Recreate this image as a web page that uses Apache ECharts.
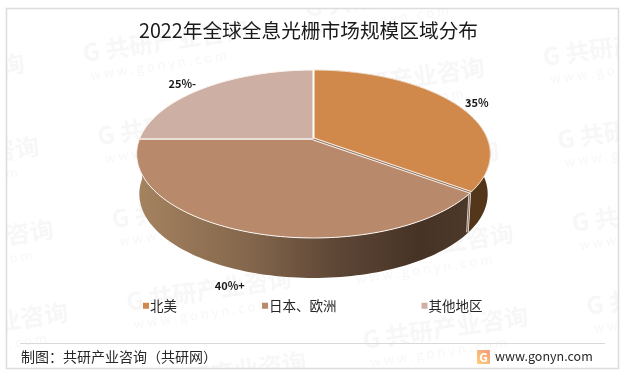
<!DOCTYPE html>
<html>
<head>
<meta charset="utf-8">
<script src="https://cdn.jsdelivr.net/npm/echarts@6/dist/echarts.min.js"></script>
<style>html,body{margin:0;padding:0;background:#fff}#c{width:625px;height:375px}</style>
</head>
<body>
<div id="c"></div>
<script>
var categories = ['北美', '日本、欧洲', '其他地区'];
var shares = [35, 40, 25];
var labelTexts = ['35%', '40%+', '25%-'];
var topColors = ['#D0894B', '#B8896B', '#CDB0A3'];
var titleText = '2022年全球全息光栅市场规模区域分布';
var sourceText = '制图：共研产业咨询（共研网）';
var siteText = 'www.gonyn.com';

var CX = 313.5, CY = 139, A = 174, B = 81.3, K = 0.1786, DEPTH = 40, BOTTOM_X = 0.985;
var FONT = '"Noto Sans CJK SC","Noto Sans",sans-serif';
var labelOffset = [[20, -2], [-20, 14], [-22, -4]];
var total = shares.reduce(function (a, b) { return a + b; }, 0);

function proj(deg, bottom) {
  var t = deg * Math.PI / 180, u = Math.sin(t), v = Math.cos(t), w = 1 + K * v;
  var sx = bottom ? BOTTOM_X : 1;
  return [CX + A * sx * u / w, CY - B * v / w + (bottom ? DEPTH : 0)];
}
function arc(a0, a1, bottom) {
  var pts = [], n = Math.max(2, Math.ceil(Math.abs(a1 - a0) / 1.5));
  for (var i = 0; i <= n; i++) pts.push(proj(a0 + (a1 - a0) * i / n, bottom));
  return pts;
}
function wallFill(i) {
  if (i === 0) return new echarts.graphic.LinearGradient(0, 0, 1, 0, [
    { offset: 0, color: '#573819' }, { offset: 1, color: '#53361A' }]);
  return new echarts.graphic.LinearGradient(0, 0, 1, 0, [
    { offset: 0, color: '#a58360' }, { offset: 0.35, color: '#82654b' },
    { offset: 0.6, color: '#5d4636' }, { offset: 0.85, color: '#463325' }, { offset: 1, color: '#4d392a' }]);
}
function renderSlice(params, api) {
  var i = params.seriesIndex, before = 0;
  for (var j = 0; j < i; j++) before += shares[j];
  var value = api.value(0);
  var a0 = before / total * 360, a1 = (before + value) / total * 360;
  var kids = [];
  if (a0 < 270) {
    kids.push({
      type: 'polygon', z2: 1,
      shape: { points: arc(a0, a1, false).concat(arc(a1, a0, true)) },
      style: { fill: wallFill(i), stroke: null }
    });
  }
  kids.push({
    type: 'polygon', z2: 5,
    shape: { points: [[CX, CY]].concat(arc(a0, a1, false)) },
    style: { fill: topColors[i], stroke: i === 0 ? '#F3E2D2' : '#FBF6F2', lineWidth: 1 }
  });
  var pA = proj(a0, false);
  if (i === 0) {
    kids.push({ type: 'line', z2: 9, shape: { x1: CX, y1: CY, x2: pA[0], y2: pA[1] }, style: { stroke: '#ffffff', lineWidth: 2 } });
  } else if (i === 1) {
    var qA = proj(a0, true);
    kids.push({ type: 'line', z2: 9, shape: { x1: CX, y1: CY, x2: pA[0], y2: pA[1] }, style: { stroke: '#F6EEE8', lineWidth: 3 } });
    kids.push({ type: 'line', z2: 10, shape: { x1: CX, y1: CY, x2: pA[0], y2: pA[1] }, style: { stroke: '#8F6E55', lineWidth: 1 } });
    kids.push({ type: 'line', z2: 3, shape: { x1: pA[0] - 1, y1: pA[1], x2: qA[0] - 1, y2: qA[1] }, style: { stroke: '#EDE6E0', lineWidth: 2.5 } });
    kids.push({ type: 'line', z2: 4, shape: { x1: pA[0] - 1, y1: pA[1], x2: qA[0] - 1, y2: qA[1] }, style: { stroke: '#6b5443', lineWidth: 0.8 } });
  } else {
    kids.push({ type: 'line', z2: 9, shape: { x1: CX, y1: CY, x2: pA[0], y2: pA[1] }, style: { stroke: '#E9DED8', lineWidth: 2 } });
  }
  var mid = proj((a0 + a1) / 2, a0 < 270 && a1 > 180 && a0 > 90);
  kids.push({
    type: 'text', z2: 12,
    style: {
      x: mid[0] + labelOffset[i][0], y: mid[1] + labelOffset[i][1], text: labelTexts[i],
      font: 'bold 11px ' + FONT, fill: '#1a1a1a', align: 'center', verticalAlign: 'middle'
    }
  });
  return { type: 'group', children: kids };
}

var watermark = [];
var columnOrigins = [[-155, 4], [83, 53], [305, 8], [543, 57]];
columnOrigins.forEach(function (o) {
  for (var r = -1; r <= 5; r++) {
    var gx = o[0] + 14.5 * r, gy = o[1] + 83 * r;
    if (gy < -20 || gy > 400) continue;
    watermark.push({
      type: 'group', x: gx, y: gy, rotation: 0.148, silent: true,
      children: [
        { type: 'text', style: { x: 0, y: 0, text: 'G 共研产业咨询', font: 'bold 24px ' + FONT, fill: '#F7F7F7', verticalAlign: 'middle' } },
        { type: 'text', style: { x: 4, y: 23, text: 'w w w . g o n y n . c o m', font: '13px ' + FONT, fill: '#F7F7F7', verticalAlign: 'middle' } }
      ]
    });
  }
});

var mask = [
  { type: 'rect', shape: { x: 0, y: 0, width: 7, height: 375 }, style: { fill: '#fff' }, silent: true },
  { type: 'rect', shape: { x: 618, y: 0, width: 7, height: 375 }, style: { fill: '#fff' }, silent: true },
  { type: 'rect', shape: { x: 0, y: 0, width: 625, height: 9 }, style: { fill: '#fff' }, silent: true },
  { type: 'rect', shape: { x: 0, y: 368, width: 625, height: 7 }, style: { fill: '#fff' }, silent: true }
];
var chrome = [
  { type: 'rect', shape: { x: 6.5, y: 8.5, width: 612, height: 360 }, style: { fill: 'none', stroke: '#DCDCDC', lineWidth: 1.5 }, silent: true },
  { type: 'line', shape: { x1: 20, y1: 343.5, x2: 605, y2: 343.5 }, style: { stroke: '#D9D9D9', lineWidth: 1 }, silent: true },
  { type: 'text', style: { x: 21, y: 357, text: sourceText, font: '14px ' + FONT, fill: '#262626', verticalAlign: 'middle' } },
  { type: 'rect', shape: { x: 477, y: 350, width: 13, height: 14, r: 1 },
    style: { fill: new echarts.graphic.LinearGradient(1, 0, 0, 1, [{ offset: 0, color: '#F59A7A' }, { offset: 1, color: '#FAD27A' }]) } },
  { type: 'text', style: { x: 483.5, y: 357, text: 'G', font: 'bold 12px ' + FONT, fill: '#ffffff', align: 'center', verticalAlign: 'middle' } },
  { type: 'text', style: { x: 495, y: 356.5, text: siteText, font: '12.5px ' + FONT, fill: '#262626', verticalAlign: 'middle' } }
];

var chart = echarts.init(document.getElementById('c'), null, { renderer: 'canvas' });
chart.setOption({
  animation: false,
  backgroundColor: '#ffffff',
  title: {
    text: titleText, left: 139, top: 21, padding: 0,
    textStyle: { fontFamily: FONT, fontSize: 19.7, fontWeight: 'normal', color: '#1a1a1a' }
  },
  legend: {
    left: 143, top: 299, padding: 0, icon: 'rect', itemWidth: 6, itemHeight: 6, itemGap: 85,
    selectedMode: false, data: categories,
    textStyle: { fontFamily: FONT, fontSize: 13.5, color: '#262626', padding: [0, 0, 0, -4] }
  },
  graphic: { elements: watermark.concat(mask, chrome) },
  series: categories.map(function (name, i) {
    return {
      type: 'custom', name: name, coordinateSystem: 'none', renderItem: renderSlice,
      itemStyle: { color: topColors[i] }, data: [[shares[i]]], silent: true, clip: false
    };
  })
});
</script>
</body>
</html>
